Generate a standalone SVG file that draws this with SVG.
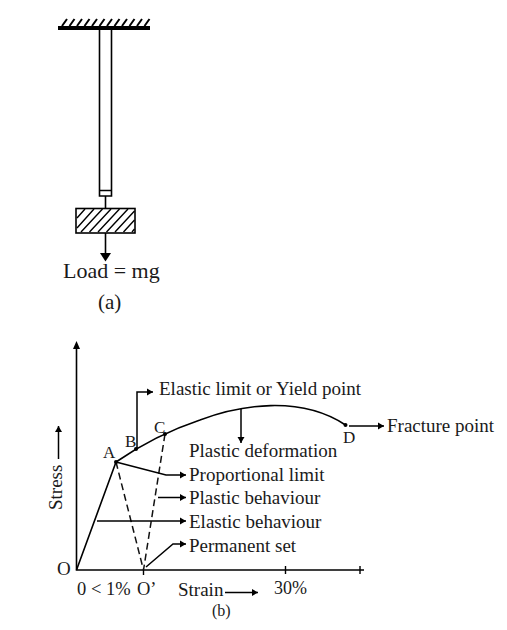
<svg xmlns="http://www.w3.org/2000/svg" width="507" height="630" viewBox="0 0 507 630">
<style>
text{font-family:"Liberation Serif","Times New Roman",serif;font-size:19px;fill:#1a1a1a}
.l{fill:none;stroke:#000;stroke-width:1.6}
.d{fill:none;stroke:#111;stroke-width:1.5;stroke-dasharray:7 4}
.h{fill:none;stroke:#000;stroke-width:1.4}
.c{fill:none;stroke:#000;stroke-width:1.5}
</style>
<defs>
<marker id="a" markerUnits="userSpaceOnUse" markerWidth="7" markerHeight="8" refX="6" refY="4" orient="auto"><path d="M0 .5L6 4L0 7.500Z" fill="#000"/></marker>
</defs>
<rect width="507" height="630" fill="#fff"/>
<g id="support">
<rect x="58" y="26" width="92" height="4" fill="#000"/>
<path fill="none" stroke="#000" stroke-width="2" d="M62 26L67 19M69.500 26L74.500 19M77 26L82 19M84.500 26L89.500 19M92 26L97 19M99.500 26L104.500 19M107 26L112 19M114.500 26L119.500 19M122 26L127 19M129.500 26L134.500 19M137 26L142 19M144.500 26L149.500 19"/>
</g>
<g id="rod">
<path class="l" d="M99.500 30V190.500H111.500V30M99.500 190.500V196H111.500V190.500"/>
<path class="l" d="M105.500 196V208.500"/>
</g>
<g id="load-block">
<rect x="76" y="208.500" width="59" height="24.500" fill="#fff" stroke="#000" stroke-width="1.600"/>
<path class="h" d="M77 218L85 209M77 228L94 209M81 232L102.500 209M89.500 232L111 209M98 232L119.500 209M106.500 232L128 209M115 232L134.500 211M123.500 232L134.500 220M132 232L134.500 229"/>
</g>
<g id="load-arrow">
<path class="l" d="M105.500 233V254"/>
<path d="M100 253H111L105.500 261.500Z" fill="#000"/>
</g>
<g id="load-label">
<text x="63" y="278" style="font-size:22px">Load = mg</text>
<text x="98" y="309" style="font-size:21px">(a)</text>
</g>
<g id="axes">
<path class="l" d="M76.500 348V570H364"/>
<path d="M76.500 341L73 349H80Z" fill="#000"/>
<path class="h" d="M143.500 570V575M285.500 566V574M360 566V574"/>
</g>
<g id="curve">
<path class="l" d="M76.500 570L116 462C145 442 170 430 200 420C240 405 300 395 345.500 425"/>
<path class="d" d="M116 462L143.500 570L165 434"/>
<circle cx="116" cy="462" r="2" fill="#000"/>
<circle cx="136" cy="449" r="2" fill="#000"/>
<circle cx="165" cy="434" r="2" fill="#000"/>
<circle cx="345.500" cy="425" r="2" fill="#000"/>
</g>
<g id="connectors">
<path class="c" marker-end="url(#a)" d="M137 449V392H153"/>
<path class="c" marker-end="url(#a)" d="M241 409V443"/>
<path class="c" marker-end="url(#a)" d="M349 426H384"/>
<path class="c" marker-end="url(#a)" d="M116 462L166 475H186"/>
<path class="c" marker-end="url(#a)" d="M158 497.500H186"/>
<path class="c" marker-end="url(#a)" d="M97 521H186"/>
<path class="c" marker-end="url(#a)" d="M146 567L173 544H186"/>
<path class="c" marker-end="url(#a)" d="M225 592.500H258"/>
<path class="c" marker-end="url(#a)" d="M58.500 459V426"/>
</g>
<g id="labels">
<text x="159" y="395">Elastic limit or Yield point</text>
<text x="189" y="457">Plastic deformation</text>
<text x="189" y="481">Proportional limit</text>
<text x="189" y="504">Plastic behaviour</text>
<text x="189" y="528">Elastic behaviour</text>
<text x="189" y="552">Permanent set</text>
<text x="387" y="432">Fracture point</text>
<text x="103" y="458" style="font-size:17px">A</text>
<text x="125" y="447" style="font-size:17px">B</text>
<text x="154" y="433" style="font-size:17px">C</text>
<text x="343" y="443" style="font-size:17px">D</text>
<text x="57" y="575">O</text>
<text x="77" y="595" style="font-size:18.500px">0 &lt; 1%</text>
<text x="137" y="595" style="font-size:18.500px">O’</text>
<text x="178" y="596">Strain</text>
<text x="274" y="594" style="font-size:18px">30%</text>
<text x="212" y="616" style="font-size:16px">(b)</text>
<text transform="translate(62 510) rotate(-90)">Stress</text>
</g>
</svg>
